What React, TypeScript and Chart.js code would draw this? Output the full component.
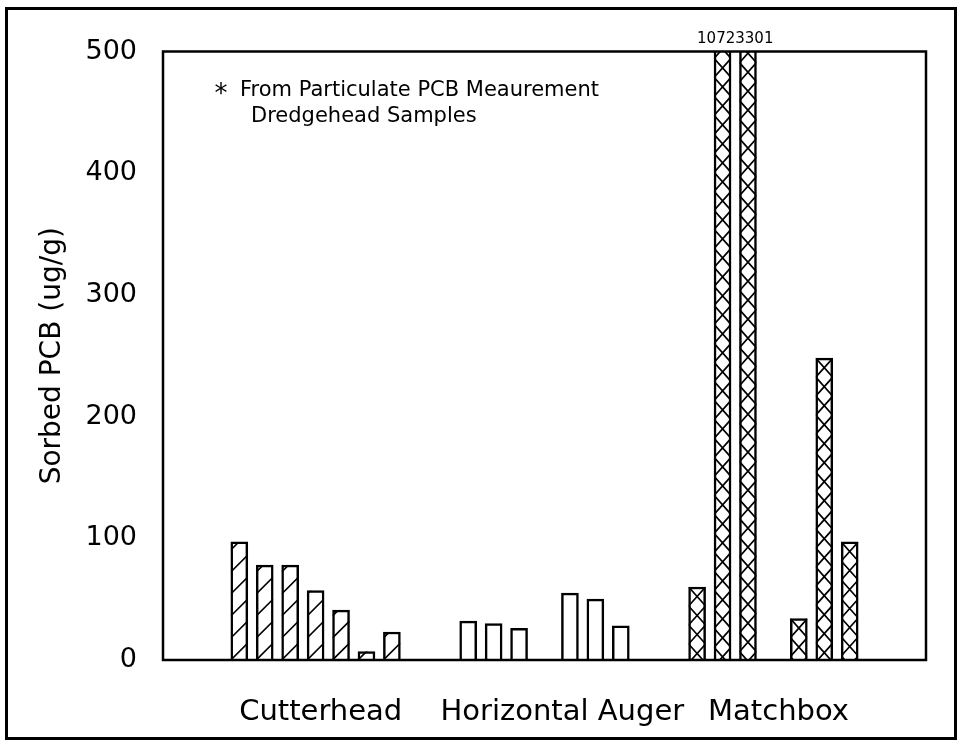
import React, { useEffect, useRef } from "react";
import { Chart, registerables } from "chart.js";

Chart.register(...registerables);

// ---- data ----
const groupLabels = ["Cutterhead", "Horizontal Auger", "Matchbox"];
const groupLabelPositions = [3.2, 12.7, 21.2];

const cutterheadPositions = [0, 1, 2, 3, 4, 5, 6];
const cutterheadValues = [97, 78, 78, 57, 41, 7, 23];

const augerPositions = [9, 10, 11, 13, 14, 15];
const augerValues = [32, 30, 26, 55, 50, 28];

const matchboxPositions = [18, 19, 20, 22, 23, 24];
const matchboxValues = [60, 1072, 3301, 34, 248, 97];

const yMin = 0;
const yMax = 500;
const yStep = 100;
const xMin = -3;
const xMax = 27;

const yTitle = "Sorbed PCB (ug/g)";
const noteMarker = "*";
const noteLines = ["From Particulate PCB Meaurement", "Dredgehead Samples"];

const FONT = "'DejaVu Sans', 'Liberation Sans', sans-serif";

const toPoints = (xs: number[], ys: number[]) => xs.map((x, i) => ({ x, y: ys[i] }));

// ---- plugins ----
const hatchPlugin = {
  id: "hatchPlugin",
  afterDatasetsDraw(chart: any) {
    const { ctx, chartArea: ca } = chart;
    chart.data.datasets.forEach((ds: any, di: number) => {
      const kind = ds.hatch;
      if (!kind) return;
      const meta = chart.getDatasetMeta(di);
      meta.data.forEach((el: any) => {
        const { x, y, base, width } = el.getProps(["x", "y", "base", "width"], true);
        const l = x - width / 2;
        const r = x + width / 2;
        const top = Math.min(y, base);
        const bot = Math.max(y, base);
        const ct = Math.max(top, ca.top);
        const cb = Math.min(bot, ca.bottom);
        if (cb <= ct) return;
        ctx.save();
        ctx.beginPath();
        ctx.rect(l, ct, r - l, cb - ct);
        ctx.clip();
        ctx.strokeStyle = "#000";
        ctx.lineWidth = 1.7;
        ctx.beginPath();
        if (kind === "diag") {
          const s = 22;
          for (let yy = bot; yy > top - s; yy -= s) {
            ctx.moveTo(l, yy);
            ctx.lineTo(r, yy - width);
          }
        } else {
          const h = 19;
          for (let yy = top; yy < bot; yy += h) {
            if (yy + h < ca.top) continue;
            ctx.moveTo(l, yy);
            ctx.lineTo(r, yy + h);
            ctx.moveTo(r, yy);
            ctx.lineTo(l, yy + h);
          }
        }
        ctx.stroke();
        ctx.restore();
      });
    });
  },
};

const framePlugin = {
  id: "framePlugin",
  afterDatasetsDraw(chart: any) {
    const { ctx, chartArea: ca } = chart;
    ctx.save();
    ctx.strokeStyle = "#000";
    ctx.lineWidth = 2.5;
    ctx.strokeRect(ca.left, ca.top, ca.right - ca.left, ca.bottom - ca.top);
    ctx.restore();
  },
};

const overflowLabelPlugin = {
  id: "overflowLabelPlugin",
  afterDraw(chart: any) {
    const { ctx, chartArea: ca } = chart;
    const max = chart.scales.y.max;
    ctx.save();
    ctx.fillStyle = "#000";
    ctx.font = `15px ${FONT}`;
    ctx.textBaseline = "alphabetic";
    chart.data.datasets.forEach((ds: any, di: number) => {
      const meta = chart.getDatasetMeta(di);
      const over: { el: any; v: number }[] = [];
      ds.data.forEach((p: any, i: number) => {
        if (p.y > max) over.push({ el: meta.data[i], v: p.y });
      });
      for (let i = 0; i < over.length; i++) {
        const cur = over[i];
        const ty = ca.top - 8.5;
        if (i % 2 === 0 && over[i + 1]) {
          const mid = (cur.el.x + over[i + 1].el.x) / 2;
          ctx.textAlign = "right";
          ctx.fillText(String(cur.v), mid, ty);
        } else if (i % 2 === 1) {
          const mid = (over[i - 1].el.x + cur.el.x) / 2;
          ctx.textAlign = "left";
          ctx.fillText(String(cur.v), mid, ty);
        } else {
          ctx.textAlign = "center";
          ctx.fillText(String(cur.v), cur.el.x, ty);
        }
      }
    });
    ctx.restore();
  },
};

const notePlugin = {
  id: "notePlugin",
  afterDraw(chart: any) {
    const { ctx, chartArea: ca } = chart;
    ctx.save();
    ctx.fillStyle = "#000";
    ctx.textBaseline = "alphabetic";
    ctx.textAlign = "center";
    ctx.font = `26px ${FONT}`;
    ctx.fillText(noteMarker, ca.left + 58, ca.top + 50.5);
    ctx.textAlign = "left";
    ctx.font = `21px ${FONT}`;
    ctx.fillText(noteLines[0], ca.left + 77, ca.top + 44.5);
    ctx.fillText(noteLines[1], ca.left + 88, ca.top + 70);
    ctx.restore();
  },
};

export default function App() {
  const ref = useRef<HTMLCanvasElement>(null);

  useEffect(() => {
    if (!ref.current) return;
    Chart.defaults.color = "#000";
    const barCommon = {
      backgroundColor: "#ffffff",
      borderColor: "#000000",
      borderWidth: 2.5,
      barThickness: 17,
      grouped: false,
    };
    const chart = new Chart(ref.current, {
      type: "bar",
      data: {
        datasets: [
          { label: groupLabels[0], data: toPoints(cutterheadPositions, cutterheadValues), hatch: "diag", ...barCommon } as any,
          { label: groupLabels[1], data: toPoints(augerPositions, augerValues), hatch: null, ...barCommon } as any,
          { label: groupLabels[2], data: toPoints(matchboxPositions, matchboxValues), hatch: "cross", ...barCommon } as any,
        ],
      },
      options: {
        animation: false,
        responsive: false,
        devicePixelRatio: 1,
        layout: { padding: { left: 0, right: 31, top: 51.5, bottom: 0 } },
        plugins: {
          legend: { display: false },
          tooltip: { enabled: false },
          title: { display: false },
        },
        scales: {
          x: {
            type: "linear",
            min: xMin,
            max: xMax,
            offset: false,
            grid: { display: false, drawTicks: false, offset: false },
            border: { display: false },
            afterBuildTicks: (scale: any) => {
              scale.ticks = groupLabelPositions.map((v) => ({ value: v }));
            },
            afterFit: (scale: any) => {
              scale.height = 82;
            },
            ticks: {
              autoSkip: false,
              maxRotation: 0,
              minRotation: 0,
              padding: 35,
              color: "#000",
              font: { family: FONT, size: 29 },
              callback: (_v: any, i: number) => groupLabels[i],
            },
          },
          y: {
            type: "linear",
            min: yMin,
            max: yMax,
            grid: { display: false, drawTicks: false },
            border: { display: false },
            afterFit: (scale: any) => {
              scale.width = 163;
            },
            ticks: {
              stepSize: yStep,
              padding: 26,
              color: "#000",
              font: { family: FONT, size: 27 },
            },
            title: {
              display: true,
              text: yTitle,
              color: "#000",
              font: { family: FONT, size: 28 },
              padding: { top: 36, bottom: 0 },
            },
          },
        },
      } as any,
      plugins: [hatchPlugin, framePlugin, overflowLabelPlugin, notePlugin],
    });
    return () => chart.destroy();
  }, []);

  return (
    <div style={{ position: "absolute", left: 0, top: 0, width: 957, height: 742, background: "#fff", overflow: "hidden" }}>
      <canvas ref={ref} width={957} height={742} style={{ position: "absolute", left: 0, top: 0 }} />
      <div
        style={{
          position: "absolute",
          left: 5,
          top: 7,
          width: 952,
          height: 733,
          border: "3px solid #000",
          boxSizing: "border-box",
          pointerEvents: "none",
        }}
      />
    </div>
  );
}
